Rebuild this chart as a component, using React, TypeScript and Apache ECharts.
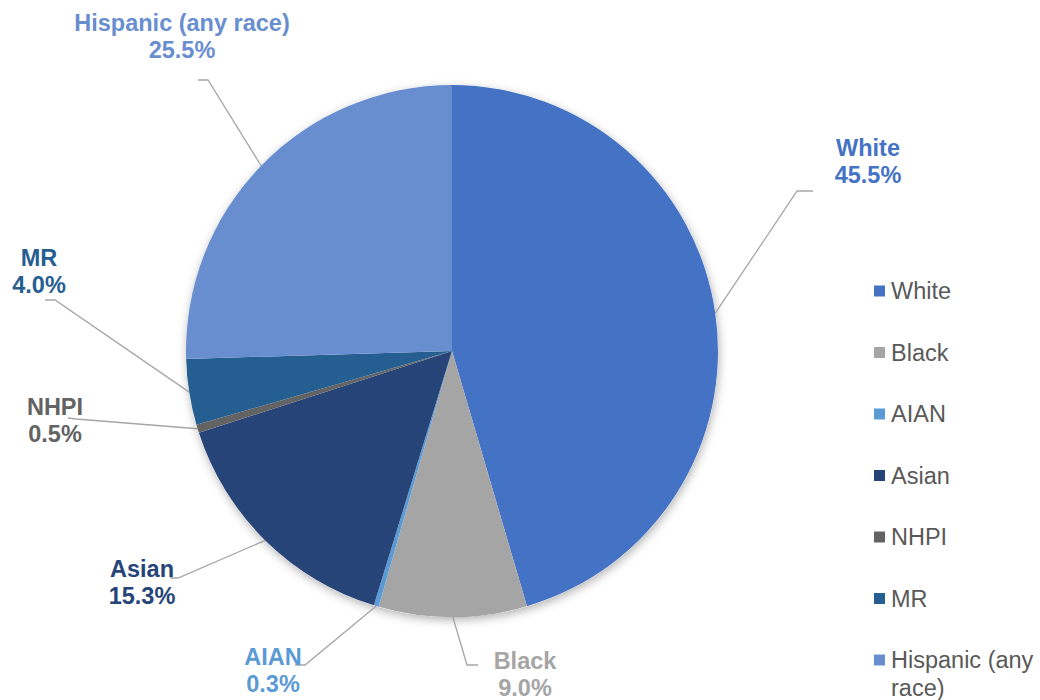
import React, { useEffect, useRef } from "react";
import * as echarts from "echarts";

const categories = ["White", "Black", "AIAN", "Asian", "NHPI", "MR", "Hispanic (any race)"];
const values = [45.5, 9.0, 0.3, 15.3, 0.5, 4.0, 25.5];
const sliceColors = ["#4472C4", "#A5A5A5", "#5B9BD5", "#264478", "#636363", "#255E91", "#698ED0"];
const labelColors = ["#4472C4", "#A5A5A5", "#5B9BD5", "#264478", "#636363", "#255E91", "#698ED0"];

// label placement (text centre, leader bend, leader end) in chart pixels
const labelPlacement = [
  { x: 868, y: 161, bend: [797, 191], end: [813, 191] },
  { x: 525, y: 674, bend: [467, 665], end: [478, 665] },
  { x: 273, y: 670, bend: [305, 665], end: [295, 665] },
  { x: 142, y: 582, bend: [178, 578], end: [170, 578] },
  { x: 55, y: 420, bend: [76, 419], end: [68, 418] },
  { x: 39, y: 271, bend: [55, 300], end: [45, 300] },
  { x: 182, y: 36, bend: [208, 80], end: [198, 80] },
];

const FONT = "'Liberation Sans', Arial, sans-serif";
const CX = 452;
const CY = 351;
const R = 266;

export default function App() {
  const ref = useRef<HTMLDivElement>(null);

  useEffect(() => {
    if (!ref.current) return;
    const chart = echarts.init(ref.current, undefined, { renderer: "svg" });
    const total = values.reduce((a, b) => a + b, 0);

    const edgePoint = (i: number) => {
      let before = 0;
      for (let k = 0; k < i; k++) before += values[k];
      const mid = ((before + values[i] / 2) / total) * Math.PI * 2;
      return [CX + R * Math.sin(mid), CY - R * Math.cos(mid)];
    };

    chart.setOption({
      animation: false,
      backgroundColor: "#ffffff",
      textStyle: { fontFamily: FONT },
      legend: [
        {
          orient: "vertical",
          left: 874,
          top: 277,
          padding: 0,
          itemWidth: 11,
          itemHeight: 11,
          itemGap: 33.5,
          icon: "rect",
          selectedMode: false,
          data: categories.slice(0, 6),
          textStyle: { fontSize: 23.5, lineHeight: 28, color: "#595959", fontFamily: FONT, padding: [0, 0, 0, 1] },
        },
        {
          orient: "vertical",
          left: 874,
          top: 618,
          padding: 0,
          itemWidth: 11,
          itemHeight: 11,
          icon: "rect",
          selectedMode: false,
          data: [categories[6]],
          formatter: () => "\nHispanic (any\nrace)",
          textStyle: { fontSize: 23.5, lineHeight: 28, color: "#595959", fontFamily: FONT, padding: [0, 0, 0, 1] },
        },
      ],
      series: [
        {
          type: "pie",
          silent: true,
          center: [CX, CY],
          radius: R,
          z: 1,
          label: { show: false },
          labelLine: { show: false },
          itemStyle: {
            color: "#ffffff",
            shadowBlur: 10,
            shadowColor: "rgba(0,0,0,0.3)",
            shadowOffsetX: 1,
            shadowOffsetY: 3,
          },
          data: [{ name: "__bg", value: total }],
        },
        {
          type: "pie",
          center: [CX, CY],
          radius: R,
          z: 2,
          startAngle: 90,
          clockwise: true,
          avoidLabelOverlap: false,
          silent: true,
          data: categories.map((name, i) => ({
            name,
            value: values[i],
            itemStyle: { color: sliceColors[i] },
            label: { color: labelColors[i] },
          })),
          label: {
            show: true,
            position: "outside",
            overflow: "none",
            fontFamily: FONT,
            fontSize: 23.5,
            fontWeight: "bold",
            lineHeight: 27,
            align: "center",
            formatter: (p: any) => `${p.name}\n${Number(p.value).toFixed(1)}%`,
          },
          labelLine: {
            show: true,
            smooth: false,
            lineStyle: { color: "#A6A6A6", width: 1.3 },
          },
          labelLayout: (p: any) => {
            const cfg = labelPlacement[p.dataIndex];
            const pts = p.labelLinePoints;
            const start = pts && pts[0] ? pts[0] : edgePoint(p.dataIndex);
            return {
              x: cfg.x,
              y: cfg.y,
              align: "center",
              verticalAlign: "middle",
              labelLinePoints: [start, cfg.bend, cfg.end],
            };
          },
        },
      ],
    });

    return () => chart.dispose();
  }, []);

  return (
    <div
      ref={ref}
      style={{ position: "fixed", left: 0, top: 0, width: 1040, height: 700, background: "#fff" }}
    />
  );
}
